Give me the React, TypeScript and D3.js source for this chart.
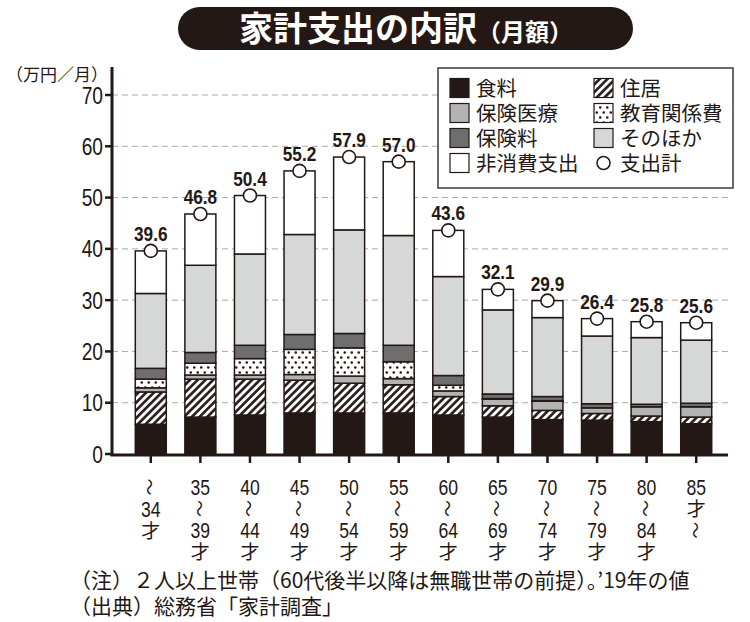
import React from "react";
import * as d3 from "d3";

const ageGroups = ["〜34才", "35〜39才", "40〜44才", "45〜49才", "50〜54才", "55〜59才", "60〜64才", "65〜69才", "70〜74才", "75〜79才", "80〜84才", "85才〜"];
const xLabelLines = [
  ["〜", "34", "才"],
  ["35", "〜", "39", "才"],
  ["40", "〜", "44", "才"],
  ["45", "〜", "49", "才"],
  ["50", "〜", "54", "才"],
  ["55", "〜", "59", "才"],
  ["60", "〜", "64", "才"],
  ["65", "〜", "69", "才"],
  ["70", "〜", "74", "才"],
  ["75", "〜", "79", "才"],
  ["80", "〜", "84", "才"],
  ["85", "才", "〜"],
];

const food = [5.8, 7.2, 7.6, 8.0, 8.0, 8.0, 7.6, 7.2, 6.7, 6.6, 6.3, 5.9];
const housing = [6.3, 7.4, 7.0, 6.4, 5.8, 5.5, 3.6, 2.2, 1.8, 1.3, 1.1, 1.3];
const medical = [0.8, 0.8, 0.8, 1.1, 1.4, 1.2, 1.1, 1.3, 1.8, 1.1, 1.8, 2.0];
const education = [1.7, 2.3, 3.2, 4.9, 5.5, 3.3, 1.1, 0.1, 0.1, 0, 0, 0];
const insurance = [2.1, 2.1, 2.6, 2.9, 2.8, 3.2, 1.9, 0.9, 0.8, 0.8, 0.5, 0.7];
const other = [14.6, 17.0, 17.8, 19.5, 20.2, 21.4, 19.3, 16.4, 15.4, 13.2, 13.0, 12.3];
const nonConsumption = [8.3, 10.0, 11.4, 12.4, 14.2, 14.4, 9.0, 4.0, 3.3, 3.4, 3.1, 3.4];
const totals = [39.6, 46.8, 50.4, 55.2, 57.9, 57.0, 43.6, 32.1, 29.9, 26.4, 25.8, 25.6];

const seriesKeys = ["food", "housing", "medical", "education", "insurance", "other", "nonConsumption"];
const seriesNames = ["食料", "住居", "保険医療", "教育関係費", "保険料", "そのほか", "非消費支出"];
const yTicks = [0, 10, 20, 30, 40, 50, 60, 70];

const FILLS: Record<string, string> = {
  food: "#231815",
  housing: "url(#hatch)",
  medical: "#b3b3b3",
  education: "url(#dots)",
  insurance: "#6e6e6e",
  other: "#d6d7d7",
  nonConsumption: "#ffffff",
};

const NUM_FONT = "'Liberation Sans', Arial, sans-serif";
const JP_FONT = "'Noto Sans CJK JP', 'Noto Sans', sans-serif";
const INK = "#231815";

function Narrow(props: { x: number; y: number; size: number; bold?: boolean; anchor?: string; sx?: number; children: any }) {
  const { x, y, size, bold, anchor, sx = 0.8, children } = props;
  return (
    <text
      transform={`translate(${x},${y}) scale(${sx},1)`}
      textAnchor={anchor || "middle"}
      fontFamily={NUM_FONT}
      fontWeight={bold ? 700 : 400}
      fontSize={size}
      fill={INK}
    >
      {children}
    </text>
  );
}

export default function App() {
  const W = 750, H = 622;
  const left = 112, right = 728, bottom = 454;
  const y = d3.scaleLinear().domain([0, 70]).range([bottom, 95]);
  const x = d3.scaleBand<string>().domain(ageGroups).range([126, 721]).paddingInner(0.375).paddingOuter(0.1875);

  const rows = ageGroups.map((g, i) => ({
    g,
    food: food[i],
    housing: housing[i],
    medical: medical[i],
    education: education[i],
    insurance: insurance[i],
    other: other[i],
    nonConsumption: nonConsumption[i],
  }));
  const stacked = d3.stack<any>().keys(seriesKeys)(rows);

  const legendItems = [
    { col: 0, row: 0, key: "food" },
    { col: 1, row: 0, key: "housing" },
    { col: 0, row: 1, key: "medical" },
    { col: 1, row: 1, key: "education" },
    { col: 0, row: 2, key: "insurance" },
    { col: 1, row: 2, key: "other" },
    { col: 0, row: 3, key: "nonConsumption" },
  ];
  const legX = [450, 594];
  const legY = [88, 113, 138, 163];

  return (
    <svg width={W} height={H} style={{ display: "block", position: "absolute", left: 0, top: 0, background: "#fff" }}>
      <defs>
        <pattern id="hatch" width="5.5" height="5.5" patternUnits="userSpaceOnUse" patternTransform="rotate(45)">
          <rect width="5.5" height="5.5" fill="#fff" />
          <line x1="1.4" y1="0" x2="1.4" y2="5.5" stroke={INK} strokeWidth="2.6" />
        </pattern>
        <pattern id="dots" width="7" height="10" patternUnits="userSpaceOnUse">
          <rect width="7" height="10" fill="#fff" />
          <circle cx="1.75" cy="2.5" r="1.3" fill={INK} />
          <circle cx="5.25" cy="7.5" r="1.3" fill={INK} />
        </pattern>
      </defs>
      <rect width={W} height={H} fill="#fff" />

      {/* Title */}
      <rect x={178} y={7} width={455} height={43} rx={21.5} fill={INK} />
      <text x={406} y={41} textAnchor="middle" fill="#fff" fontFamily={JP_FONT} fontWeight={700}>
        <tspan fontSize={34}>家計支出の内訳</tspan>
        <tspan fontSize={24}>（月額）</tspan>
      </text>

      {/* Unit */}
      <text x={6} y={81} fontFamily={JP_FONT} fontSize={17} fill={INK}>（万円／月）</text>

      {/* Grid */}
      {yTicks.filter(t => t > 0).map(t => (
        <line key={t} x1={left} x2={right} y1={y(t)} y2={y(t)} stroke="#aaaaaa" strokeWidth={1} strokeDasharray="6,4" />
      ))}

      {/* Bars */}
      {stacked.map((s) => (
        <g key={s.key}>
          {s.map((d, i) => (
            <rect
              key={i}
              x={x(ageGroups[i])}
              width={x.bandwidth()}
              y={y(d[1])}
              height={Math.max(0, y(d[0]) - y(d[1]))}
              fill={FILLS[s.key as string]}
              stroke={INK}
              strokeWidth={1.5}
            />
          ))}
        </g>
      ))}

      {/* Totals */}
      {totals.map((t, i) => {
        const cx = (x(ageGroups[i]) as number) + x.bandwidth() / 2;
        return (
          <g key={i}>
            <circle cx={cx} cy={y(t)} r={6.5} fill="#fff" stroke={INK} strokeWidth={1.6} />
            <Narrow x={cx} y={y(t) - 10} size={21} bold sx={0.82}>{t.toFixed(1)}</Narrow>
          </g>
        );
      })}

      {/* Y axis */}
      <line x1={left} x2={left} y1={67} y2={bottom + 2} stroke={INK} strokeWidth={3} />
      {yTicks.map(t => (
        <g key={t}>
          <line x1={left - 7} x2={left} y1={y(t)} y2={y(t)} stroke={INK} strokeWidth={2.5} />
          <Narrow x={left - 9} y={y(t) + 8.5} size={24} anchor="end" sx={0.8}>{t}</Narrow>
        </g>
      ))}

      {/* X axis */}
      <line x1={left - 1.5} x2={right} y1={bottom + 1} y2={bottom + 1} stroke={INK} strokeWidth={3} />
      {ageGroups.map((g, i) => {
        const cx = (x(g) as number) + x.bandwidth() / 2;
        return (
          <g key={g}>
            <line x1={cx} x2={cx} y1={bottom + 2} y2={bottom + 9} stroke={INK} strokeWidth={2.5} />
            {xLabelLines[i].map((ln, j) => {
              const cy = 487 + j * 21.6;
              if (ln === "〜") {
                return (
                  <text key={j} x={0} y={0} textAnchor="middle" dominantBaseline="central" fontFamily={JP_FONT} fontSize={17} fill={INK}
                    transform={`translate(${cx},${cy}) rotate(90)`}>〜</text>
                );
              }
              const isNum = /\d/.test(ln);
              if (isNum) {
                return <Narrow key={j} x={cx} y={cy + 8} size={22} sx={0.8}>{ln}</Narrow>;
              }
              return (
                <text key={j} x={cx} y={cy + 7.5} textAnchor="middle" fontFamily={JP_FONT} fontSize={19} fill={INK}>{ln}</text>
              );
            })}
          </g>
        );
      })}

      {/* Legend */}
      <rect x={438} y={68} width={295} height={120} fill="#fff" stroke="#3a3a3a" strokeWidth={1.5} />
      {legendItems.map(it => {
        const idx = seriesKeys.indexOf(it.key);
        const lx = legX[it.col], ly = legY[it.row];
        return (
          <g key={it.key}>
            <rect x={lx} y={ly - 9.5} width={19} height={19} fill={FILLS[it.key]} stroke={INK} strokeWidth={1.2} />
            <text x={lx + 26} y={ly + 7.5} fontFamily={JP_FONT} fontSize={20.5} fill={INK}>{seriesNames[idx]}</text>
          </g>
        );
      })}
      <circle cx={legX[1] + 9.5} cy={legY[3]} r={6.5} fill="#fff" stroke={INK} strokeWidth={1.5} />
      <text x={legX[1] + 26} y={legY[3] + 7.5} fontFamily={JP_FONT} fontSize={20.5} fill={INK}>支出計</text>

      {/* Footnotes */}
      <text x={70} y={588} fontFamily={JP_FONT} fontSize={21} fill={INK}>（注）２人以上世帯（60代後半以降は無職世帯の前提）。’19年の値</text>
      <text x={70} y={614} fontFamily={JP_FONT} fontSize={21} fill={INK}>（出典）総務省「家計調査」</text>
    </svg>
  );
}
